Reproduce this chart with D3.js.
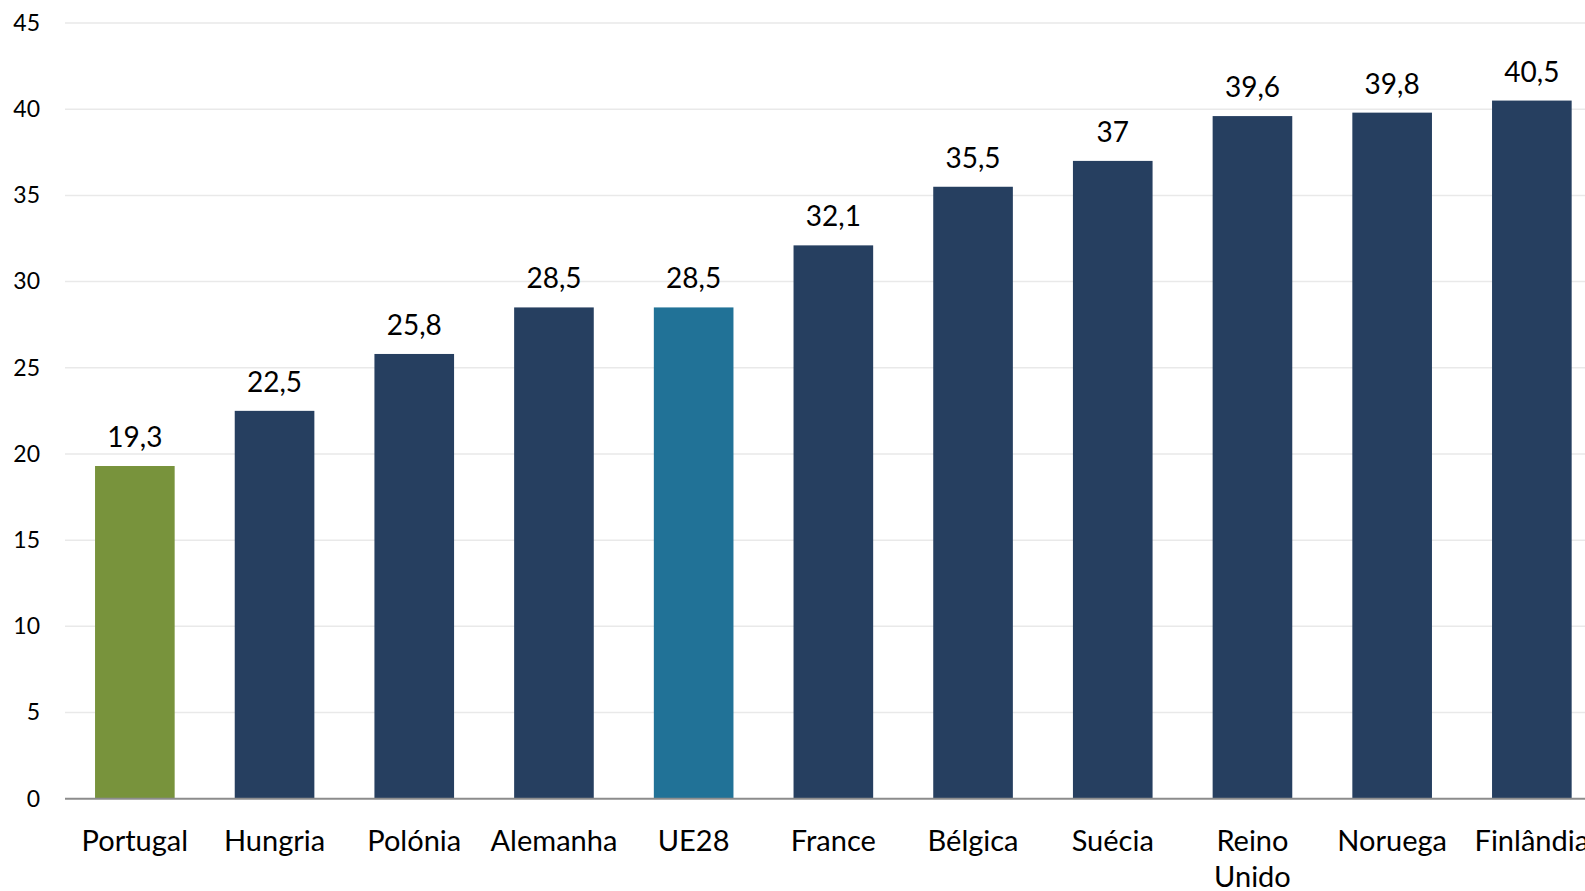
<!DOCTYPE html>
<html lang="pt">
<head>
    <meta charset="utf-8" />
    <title>Gráfico de barras</title>
    <script src="https://cdn.jsdelivr.net/npm/d3@7"></script>
    <style>
        body { margin: 0; background: #fff; }
        text { font-family: Lato, "Open Sans", sans-serif; fill: #000; }
    </style>
</head>
<body>
    <svg width="1585" height="891"></svg>
    <script>
        // dados
        var paises = ["Portugal", "Hungria", "Polónia", "Alemanha", "UE28", "France", "Bélgica", "Suécia", "Reino Unido", "Noruega", "Finlândia"];
        var valores = [19.3, 22.5, 25.8, 28.5, 28.5, 32.1, 35.5, 37, 39.6, 39.8, 40.5];
        var cores = ["#78933c", "#263f60", "#263f60", "#263f60", "#217297", "#263f60", "#263f60", "#263f60", "#263f60", "#263f60", "#263f60"];
        var yTicks = [0, 5, 10, 15, 20, 25, 30, 35, 40, 45];

        var svg = d3.select("svg");

        var xScale = d3.scaleBand()
            .domain(paises)
            .range([65, 65 + 11 * 139.7])
            .paddingInner(0.43)
            .paddingOuter(0.215);

        var yScale = d3.scaleLinear().domain([0, 45]).range([798.7, 23]);

        // linhas de grelha
        svg.append("g")
            .selectAll("line")
            .data(yTicks.slice(1))
            .enter().append("line")
            .attr("x1", 65).attr("x2", 1585)
            .attr("y1", function (d) { return yScale(d); })
            .attr("y2", function (d) { return yScale(d); })
            .attr("stroke", "#e9e9e9")
            .attr("stroke-width", 1.5);

        // eixo y
        var yAxis = svg.append("g")
            .attr("transform", "translate(65,0)")
            .call(d3.axisLeft(yScale).tickValues(yTicks).tickSize(0).tickPadding(25));
        yAxis.select(".domain").remove();
        yAxis.selectAll("text").style("font-size", "23px").attr("fill", "#000");

        // barras
        svg.append("g")
            .selectAll("rect")
            .data(valores)
            .enter().append("rect")
            .attr("x", function (d, i) { return xScale(paises[i]); })
            .attr("y", function (d) { return yScale(d); })
            .attr("width", xScale.bandwidth())
            .attr("height", function (d) { return yScale(0) - yScale(d); })
            .attr("fill", function (d, i) { return cores[i]; });

        // rótulos de valor
        svg.append("g")
            .selectAll("text")
            .data(valores)
            .enter().append("text")
            .attr("x", function (d, i) { return xScale(paises[i]) + xScale.bandwidth() / 2; })
            .attr("y", function (d) { return yScale(d) - 19; })
            .attr("text-anchor", "middle")
            .style("font-size", "28px")
            .text(function (d) { return String(d).replace(".", ","); });

        // eixo x
        svg.append("line")
            .attr("x1", 65).attr("x2", 1585)
            .attr("y1", yScale(0)).attr("y2", yScale(0))
            .attr("stroke", "#8c8c8c")
            .attr("stroke-width", 2);

        var catLabels = svg.append("g")
            .selectAll("text")
            .data(paises)
            .enter().append("text")
            .attr("x", function (d) { return xScale(d) + xScale.bandwidth() / 2; })
            .attr("y", 851)
            .attr("text-anchor", "middle")
            .style("font-size", "29px");

        catLabels.each(function (d) {
            var palavras = d === "Reino Unido" ? ["Reino", "Unido"] : [d];
            var t = d3.select(this);
            var x = t.attr("x");
            palavras.forEach(function (p, k) {
                t.append("tspan").attr("x", x).attr("dy", k === 0 ? 0 : 36).text(p);
            });
        });
    </script>
</body>
</html>
